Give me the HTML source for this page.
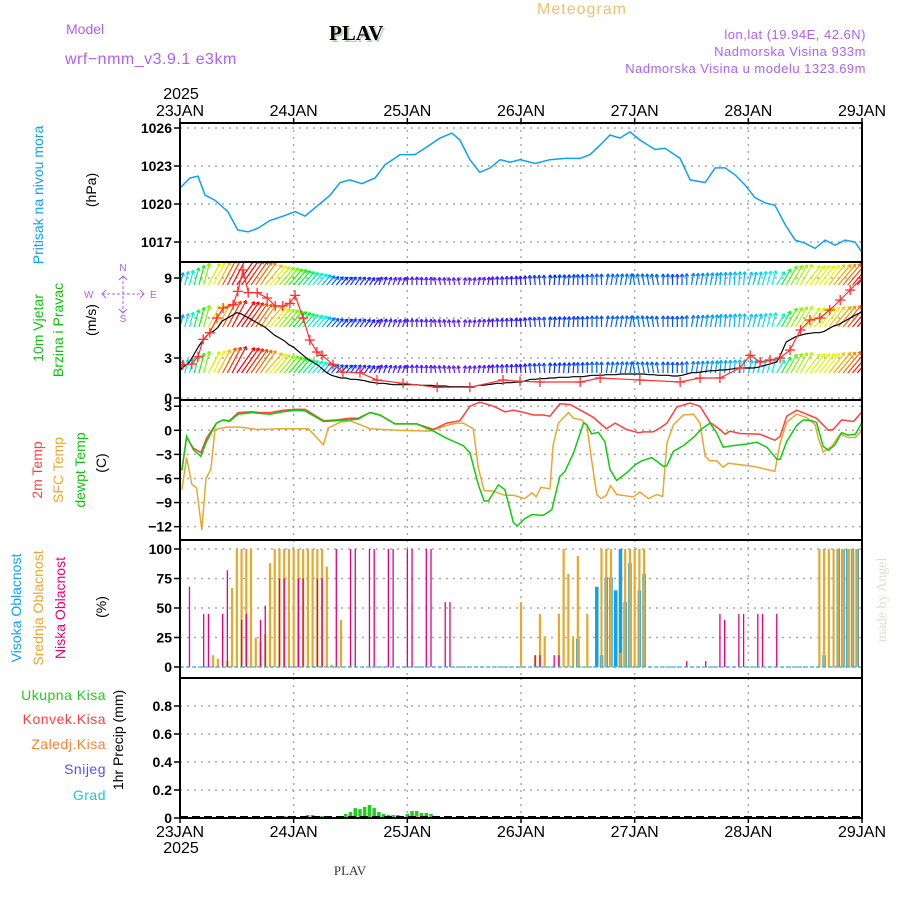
<!DOCTYPE html>
<html><head><meta charset="utf-8"><style>
html,body{margin:0;padding:0;background:#fff;}
svg{display:block;font-family:"Liberation Sans",sans-serif;}
</style></head><body>
<svg id="chart" width="900" height="900" viewBox="0 0 900 900" xmlns="http://www.w3.org/2000/svg">
<defs>
<clipPath id="cpP"><rect x="180" y="123" width="682" height="139"/></clipPath>
<clipPath id="cpW"><rect x="180" y="262" width="682" height="138"/></clipPath>
<clipPath id="cpT"><rect x="180" y="400" width="682" height="140"/></clipPath>
<clipPath id="cpC"><rect x="180" y="540" width="682" height="138"/></clipPath>
<clipPath id="cpR"><rect x="180" y="678" width="682" height="140"/></clipPath>
</defs>
<text x="582" y="14" font-size="16" fill="#f0c070" text-anchor="middle" letter-spacing="1">Meteogram</text>
<text x="66" y="34" font-size="14" fill="#b060f0">Model</text>
<text x="65" y="64" font-size="16" fill="#b060f0" letter-spacing="0.5">wrf−nmm_v3.9.1  e3km</text>
<text x="331" y="42" font-size="21" font-weight="bold" fill="#b8d0b8" font-family="Liberation Serif, serif">PLAV</text>
<text x="329" y="40" font-size="21" font-weight="bold" fill="#000" font-family="Liberation Serif, serif">PLAV</text>
<g font-size="13" fill="#b060f0" text-anchor="end" letter-spacing="0.5">
<text x="866" y="39">lon,lat (19.94E, 42.6N)</text>
<text x="866" y="56">Nadmorska Visina 933m</text>
<text x="866" y="73">Nadmorska Visina u modelu 1323.69m</text>
</g>
<text x="181" y="99" font-size="16" text-anchor="middle">2025</text>
<text x="181" y="853" font-size="16" text-anchor="middle">2025</text>
<text x="350" y="875" font-size="13" font-family="Liberation Serif, serif" fill="#333" text-anchor="middle">PLAV</text>
<text transform="translate(886,600) rotate(-90)" font-size="14" fill="#d4e4d4" text-anchor="middle" font-family="Liberation Serif, serif">made by Angel</text>

<text transform="translate(43,195) rotate(-90)" font-size="14" fill="#10a0f0" text-anchor="middle">Pritisak na nivou mora</text>
<text transform="translate(96,190) rotate(-90)" font-size="14" fill="#000" text-anchor="middle">(hPa)</text>
<text transform="translate(43,328) rotate(-90)" font-size="14" fill="#10c010" text-anchor="middle">10m Vjetar</text>
<text transform="translate(63,330) rotate(-90)" font-size="14" fill="#10c010" text-anchor="middle">Brzina i Pravac</text>
<text transform="translate(96,320) rotate(-90)" font-size="14" fill="#000" text-anchor="middle">(m/s)</text>
<g fill="#b060f0" font-size="10">
<text x="123" y="271" text-anchor="middle">N</text>
<text x="84" y="298">W</text><text x="150" y="298">E</text>
<text x="123" y="322" text-anchor="middle">S</text>
<line x1="102" y1="294" x2="144" y2="294" stroke="#b060f0" stroke-dasharray="3,2"/>
<line x1="123" y1="276" x2="123" y2="313" stroke="#b060f0" stroke-dasharray="3,2"/>
<polyline points="106,290 102,294 106,298" fill="none" stroke="#b060f0"/>
<polyline points="140,290 144,294 140,298" fill="none" stroke="#b060f0"/>
<polyline points="119,280 123,276 127,280" fill="none" stroke="#b060f0"/>
<polyline points="119,309 123,313 127,309" fill="none" stroke="#b060f0"/>
</g>
<text transform="translate(42,470) rotate(-90)" font-size="14" fill="#ff4040" text-anchor="middle">2m Temp</text>
<text transform="translate(63,470) rotate(-90)" font-size="14" fill="#e8a830" text-anchor="middle">SFC Temp</text>
<text transform="translate(85,470) rotate(-90)" font-size="14" fill="#10c010" text-anchor="middle">dewpt Temp</text>
<text transform="translate(106,463) rotate(-90)" font-size="14" fill="#000" text-anchor="middle">(C)</text>
<text transform="translate(21,608) rotate(-90)" font-size="14" fill="#10a0f0" text-anchor="middle">Visoka Oblacnost</text>
<text transform="translate(43,608) rotate(-90)" font-size="14" fill="#e8a830" text-anchor="middle">Srednja Oblacnost</text>
<text transform="translate(65,608) rotate(-90)" font-size="14" fill="#e8007a" text-anchor="middle">Niska Oblacnost</text>
<text transform="translate(106,607) rotate(-90)" font-size="14" fill="#000" text-anchor="middle">(%)</text>
<g font-size="14" text-anchor="end" letter-spacing="0.5">
<text x="106" y="700" fill="#22cc22">Ukupna  Kisa</text>
<text x="106" y="724" fill="#ff4040">Konvek.Kisa</text>
<text x="106" y="749" fill="#ff8030">Zaledj.Kisa</text>
<text x="106" y="774" fill="#5050ff">Snijeg</text>
<text x="106" y="800" fill="#20c8c8">Grad</text>
</g>
<text transform="translate(123,740) rotate(-90)" font-size="14" fill="#000" text-anchor="middle">1hr Precip (mm)</text>
<g id="layer"></g>
</svg>
<script>
// ---- data ----
const days = ["23JAN","24JAN","25JAN","26JAN","27JAN","28JAN","29JAN"];
const pressureTicks = [1017,1020,1023,1026];
const windTicks = [0,3,6,9];
const tempTicks = [-12,-9,-6,-3,0,3];
const cloudTicks = [0,25,50,75,100];
const precipTicks = [0,0.2,0.4,0.6,0.8];

const pHours = [0,2.1,3.8,5.3,7.4,10.1,12.2,14.4,16.5,19,22.2,24.3,26.4,28.5,31.7,33.8,35.9,38.4,41.2,43.3,46.5,49.6,51.7,54.9,57.4,59.1,61.2,63.3,65.5,67.6,69.7,71.8,75,78.1,81.3,84.5,86.6,88.7,90.8,92.9,95,97.1,100.3,102.4,105.6,107.7,110.9,113,115.1,117.2,119.3,121.4,123.5,125.6,127.8,129.9,132,134.1,136.2,138.3,140.4,142.5,144];
const pVals = [1021.26,1022.05,1022.2,1020.7,1020.3,1019.4,1017.95,1017.8,1018.1,1018.7,1019.1,1019.4,1019.05,1019.7,1020.7,1021.7,1021.9,1021.6,1022.05,1023.1,1023.9,1023.9,1024.4,1025.2,1025.6,1025.05,1023.5,1022.5,1022.85,1023.5,1023.3,1023.5,1023.2,1023.5,1023.6,1023.6,1023.9,1024.65,1025.45,1025.2,1025.7,1025.05,1024.3,1024.4,1023.6,1021.9,1021.7,1022.85,1022.85,1022.3,1021.5,1020.5,1020.1,1019.9,1018.35,1017.15,1016.9,1016.5,1017.15,1016.75,1017.15,1017.0,1016.2];

const windSpeed = [2.1,2.4,2.7,3.3,3.9,4.4,4.8,5.0,5.3,5.8,
6.0,6.2,6.4,6.3,6.1,5.9,5.7,5.5,5.3,5.0,
4.7,4.5,4.3,4.0,3.8,3.5,3.2,2.9,2.7,2.5,
2.2,1.9,1.7,1.6,1.5,1.5,1.4,1.4,1.35,1.3,
1.2,1.15,1.1,1.1,1.05,1.0,1.0,1.0,1.0,1.0,
1.0,0.95,0.95,0.95,0.9,0.9,0.9,0.85,0.85,0.85,
0.85,0.85,0.85,0.95,0.95,1.0,1.05,1.1,1.1,1.15,
1.15,1.2,1.2,1.3,1.4,1.4,1.45,1.45,1.5,1.5,
1.55,1.55,1.55,1.6,1.6,1.6,1.65,1.7,1.7,1.7,
1.75,1.75,1.75,1.8,1.8,1.8,1.8,1.8,1.8,1.75,
1.75,1.7,1.7,1.7,1.65,1.65,1.7,1.8,1.9,1.9,
1.95,2.0,2.05,2.05,2.1,2.1,2.15,2.2,2.25,2.25,
2.25,2.25,2.3,2.4,2.5,2.6,2.7,3.4,4.2,4.4,
4.6,4.7,4.8,4.85,4.9,4.9,5.0,5.2,5.4,5.5,
5.7,5.9,6.1,6.3,6.45];
const windDir6h = [15,28,35,40,40,40,35,20,0,350,10,0,355,5,0,10,350,0,10,5,15,30,38,40,40];

const gustHours = [0.6,2.5,3.8,4.9,6.3,7.8,9.1,11.2,12.2,13.3,14.4,16.3,18.4,20.1,21.7,23.2,24.3,26,27.4,28.9,30,32.3,34.4,38,41.6,47.1,54.3,61.2,68.2,71.8,76,84.5,88.7,97.1,105.6,109.8,114,118.2,120.4,122.5,124.6,126.7,128.8,131,133,135.1,137.2,139.4,141.5,144];
const gustVals = [2.5,2.55,3.1,4.4,4.9,6,6.75,7,8.0,9.6,7.9,7.9,7.5,6.9,6.9,7.1,7.7,6,4.35,3.45,3.2,2.5,1.95,1.9,1.35,1.1,0.8,0.8,1.35,1.25,1.2,1.2,1.5,1.35,1.2,1.5,1.5,2.25,3.2,2.7,2.85,3,3.6,5.1,5.85,6,6.6,7.35,8.1,9];

const t2Hours = [0.4,1.4,2.8,4.4,5.6,7.7,9.1,10.4,12.3,15.1,16.9,19,21.8,24.6,26.4,30.3,33.1,35.9,37.6,40.1,42.2,45.4,50,53.5,56.3,59.1,61.2,63.3,66.2,68.6,70.4,72.8,74.6,76.7,78.1,80.2,82.4,85.2,87.3,90,91.9,94.3,96.8,97.8,99.9,101.4,102.8,104.9,107.7,109.8,111.9,114,115.1,116.1,118.2,122.5,125.6,126.7,128.1,130.2,132.3,134.4,136.9,137.9,139.7,142.2,144];
const t2Vals = [-4.9,-0.9,-2.2,-2.8,-1,0.9,1.3,1.2,2.2,2.3,2.2,2.2,2.5,2.6,2.6,1.2,1.3,1.5,1.5,2.2,1.9,0.8,0.8,0.1,0.9,1.2,3.0,3.5,3,2.3,2.5,2.2,1.9,1.9,1.75,3.3,3.2,2.3,1.6,0.2,0.9,0.1,-0.3,-0.2,-0.2,0.3,0.9,2.9,3.4,3,1,0.1,-0.5,-0.1,-0.4,-0.5,-1.25,-0.75,1.75,2.5,2,1.5,0,0.1,1.3,1.1,2.3];

const dewHours = [0.4,1.4,2.8,4.4,5.6,7.7,9.1,10.4,12.3,15.1,19,21.8,24.6,26.4,30.3,33.1,35.9,37.6,40.1,42.2,45.4,50,53.5,56.3,59.8,61.2,63,64.2,65.1,67.2,68.6,70.4,71.2,72.8,74.3,76.7,78.5,80.2,81.3,83.1,85.2,85.9,86.9,88.3,89.7,90.8,92.2,94.3,96.1,97.5,99.6,102.1,102.8,104.2,106.3,108.4,110.2,111.9,113.3,114.7,116.8,119.7,121.8,123.9,126,126.7,128.1,130.2,131.6,133.4,134.4,135.8,136.9,138.3,139.7,141.1,142.6,144];
const dewVals = [-5,-0.75,-2.4,-3.25,-1.4,0.9,1.3,1.1,2,2.2,2,2.3,2.5,2.4,1.1,1.2,1.3,1.4,2.2,1.9,0.8,0.8,-0.1,-1,-1.9,-2.8,-6.8,-8.8,-8.8,-6.8,-7.4,-11.5,-11.9,-11,-10.5,-10.6,-9.9,-5.75,-5.1,-2.8,0.9,0.7,-0.45,-0.25,-1.4,-4.9,-6.25,-5.3,-4.3,-3.8,-3.4,-4.5,-4.4,-2.6,-1.9,-0.9,0.2,0.9,-0.3,-2.1,-1.9,-1.7,-1.5,-2.1,-3.6,-3.6,-1.4,0.6,1.3,1.2,1,-2,-2.5,-1.8,-0.3,-0.6,-0.5,1];

const sfcHours = [0.4,1.4,2.5,3.5,4.6,5.5,6.5,7.4,9.9,12.7,16.2,21.1,27.1,30.3,31.3,33.8,35.9,40.1,45.7,52.8,56.3,58.4,59.8,61.9,63,64.2,66.2,68.6,70.4,72.8,74.3,75.2,76.2,78.1,78.8,79.9,82,83.1,84.8,85.9,86.9,88,88.9,90,90.9,92.2,95.7,97.1,98.9,100.7,101.9,102.8,104.2,106.3,108.4,109.8,110.9,111.9,113.3,114.7,115.8,119.7,121.1,125.6,126.7,128.1,130.2,132.3,134.1,134.8,135.8,137.6,139.4,141.1,142.6,144];
const sfcVals = [-7.4,-3.4,-6.7,-7.2,-12.4,-6,-4.9,0.1,0.4,0.4,0.1,0.2,0.2,-1.8,0.3,1,1.2,0.2,0,-0.1,0.6,0.9,0.9,0.2,-4.7,-7.5,-7.6,-8.1,-8.1,-8.5,-7.8,-8.3,-7.1,-7.3,-1.8,0.9,2.2,1.5,1.3,0.7,-3.7,-8,-8.5,-8.1,-6.9,-8,-8.3,-7.7,-8.5,-8,-8.25,-1.6,0.7,1.9,2,0.9,-3.25,-3.8,-3.8,-4.6,-4.1,-4.4,-4.5,-5.1,-1.6,1,2,1.6,0.7,-1,-2.7,-2,-0.45,-0.9,-0.9,0];

const lowHours = [2,5,6,9,10,13,14,17,18,21,22,25,26,29,30,33,36,37,40,41,44,45,48,49,52,53,56,57,75,76,79,80,107,111,114,115,118,119,122,123,126];
const lowVals = [68,45,45,45,82,40,45,40,52,75,75,75,75,75,75,100,100,100,100,100,100,100,100,100,100,100,55,55,10,10,10,10,5,5,45,40,45,45,45,45,45];
const midHours = [7,8,10,11,12,13,14,15,16,17,18,19,20,21,22,23,24,25,26,27,28,29,30,31,32,34,72,75,76,77,80,81,82,83,84,86,89,90,91,93,94,95,96,97,98,135,136,137,138,139,140,141,142,143];
const midVals = [10,7,5,67,100,100,100,100,25,22,28,88,100,100,100,100,100,100,100,100,100,100,100,85,2,40,55,10,45,26,45,100,79,26,94,45,100,100,100,12,100,100,100,100,100,100,100,100,100,100,100,100,100,100];
const highHours = [84,88,89,90,91,92,93,94,95,97,98,136,139,140,141,142,143];
const highVals = [24,68,10,76,76,65,100,55,88,65,79,10,100,100,100,100,100];

const rainHours = [21,22,23,24,25,26,27,28,29,30,31,33,34,35,36,37,38,39,40,41,42,43,44,45,46,47,48,49,50,51,52,53,54,55,113];
const rainVals = [0.007,0.014,0.014,0.007,0.007,0.007,0.021,0.021,0.014,0.014,0.007,0.007,0.007,0.029,0.043,0.071,0.064,0.079,0.093,0.071,0.043,0.029,0.021,0.021,0.021,0.014,0.029,0.05,0.05,0.036,0.036,0.029,0.014,0.007,0.004];
const frzHours = [49,50,52,54];
const frzVals = [0.01,0.02,0.01,0.01];

// ---- axes ----
const X0=180, X1=862, NH=144;
const xh = h => X0 + h*(X1-X0)/NH;
const yP = p => 128 + (1026-p)*12.67;
const yW = v => 398 - v*13.33;
const yT = t => 430.3 - t*8.03;
const yC = c => 667 - c*1.18;
const yR = r => 818 - r*140;
const NS="http://www.w3.org/2000/svg";
const layer=document.getElementById('layer');
function mk(tag, attrs, parent){const e=document.createElementNS(NS,tag);for(const k in attrs)e.setAttribute(k,attrs[k]);(parent||layer).appendChild(e);return e;}
function poly(hs, vs, yf, color, clip, w, name){
  const pts=hs.map((h,i)=>xh(h).toFixed(1)+","+yf(vs[i]).toFixed(1)).join(" ");
  const e=mk('polyline',{points:pts,fill:'none',stroke:color,'stroke-width':w||1.5,'clip-path':'url(#'+clip+')'});
  
  
  return e;
}
const panels=[[123,262,'cpP',pressureTicks,yP,'pressure'],[262,400,'cpW',windTicks,yW,'wind'],[400,540,'cpT',tempTicks,yT,'temp'],[540,678,'cpC',cloudTicks,yC,'cloud'],[678,818,'cpR',precipTicks,yR,'precip']];
panels.forEach(p=>{
  p[3].forEach(t=>{const y=p[4](t);
    const g=mk('line',{x1:X0,x2:X1,y1:y,y2:y,stroke:'#aaa','stroke-dasharray':'2,5','stroke-width':1.5});
    
    
    const tk=mk('line',{x1:174,x2:180,y1:y,y2:y,stroke:'#000','stroke-width':1.5});
    
    
    const lb=mk('text',{x:172,y:y+5,'font-size':14,'font-weight':'bold','text-anchor':'end'});
    lb.textContent=(t<0?'−'+Math.abs(t):String(t));
    
    
  });
  days.forEach((d,i)=>{if(i===0||i===days.length-1)return;const x=xh(i*24);
    const g=mk('line',{x1:x,x2:x,y1:p[0],y2:p[1],stroke:'#aaa','stroke-dasharray':'2,5','stroke-width':1.5});
    
    
  });
});
days.forEach((d,i)=>{const x=xh(i*24);
  const a=mk('text',{x:x,y:116,'font-size':16,'text-anchor':'middle'});a.textContent=d;
  
  
  const b=mk('text',{x:x,y:837,'font-size':16,'text-anchor':'middle'});b.textContent=d;
  
  
  mk('line',{x1:x,x2:x,y1:118,y2:123,stroke:'#000','stroke-width':1.5});
  mk('line',{x1:x,x2:x,y1:818,y2:823,stroke:'#000','stroke-width':1.5});
});

poly(pHours,pVals,yP,'#10a0f0','cpP',1.5,'pressure-line');

// wind arrows
const rows=[285,327,373];
windSpeed.forEach((v,h)=>{
  const dir=windDir6h[Math.floor(h/6)]*Math.PI/180;
  const L=4.2*v+4;
  const hue=Math.max(0,Math.min(285,300-48*v));
  const col='hsl('+hue.toFixed(0)+',100%,'+(hue>230?55:48)+'%)';
  rows.forEach((by,ri)=>{
    const x=xh(h), dx=Math.sin(dir)*L, dy=-Math.cos(dir)*L;
    const g=mk('g',{stroke:col,'stroke-width':1.2,fill:'none','clip-path':'url(#cpW)'});
    
    
    mk('line',{x1:x,y1:by,x2:x+dx,y2:by+dy},g);
    const ang=Math.atan2(dy,dx), hl=3.5;
    [ang+2.6,ang-2.6].forEach(a=>mk('line',{x1:x+dx,y1:by+dy,x2:x+dx+Math.cos(a)*hl,y2:by+dy+Math.sin(a)*hl},g));
  });
});
poly(windSpeed.map((v,i)=>i),windSpeed,yW,'#000','cpW',1.2,'wind-speed-line');
poly(gustHours,gustVals,yW,'#ff3030','cpW',1.2,'wind-gust-line');
gustHours.forEach((h,i)=>{const x=xh(h),y=yW(gustVals[i]);
  const g=mk('g',{stroke:'#ff3030','stroke-width':1.3,'clip-path':'url(#cpW)'});
  
  
  mk('line',{x1:x-5,x2:x+5,y1:y,y2:y},g);mk('line',{x1:x,x2:x,y1:y-5,y2:y+5},g);
});

poly(sfcHours,sfcVals,yT,'#e8a830','cpT',1.5,'sfc-temp-line');
poly(t2Hours,t2Vals,yT,'#ff4040','cpT',1.5,'temp-2m-line');
poly(dewHours,dewVals,yT,'#10cc10','cpT',1.5,'dewpoint-line');

function bars(hs,vs,yf,color,w,off,name,clip,base){
  hs.forEach((h,i)=>{const x=xh(h)+off, y=yf(vs[i]);
    const r=mk('rect',{x:x-w/2,y:y,width:w,height:Math.max(0,base-y),fill:color,'clip-path':'url(#'+clip+')'});
    
    
  });
}
bars(highHours,highVals,yC,'#10a0f0',3.5,0,'high-cloud-bar','cpC',667);
bars(midHours,midVals,yC,'#e8a828',2.2,0,'mid-cloud-bar','cpC',667);
bars(lowHours,lowVals,yC,'#e8007a',1.3,0,'low-cloud-bar','cpC',667);
const cb=mk('line',{x1:X0,x2:X1,y1:667,y2:667,stroke:'#40b0e0','stroke-width':1.2,'stroke-dasharray':'4,2'});



bars(rainHours,rainVals,yR,'#22cc22',3.5,0,'rain-bar','cpR',818);
bars(frzHours,frzVals,yR,'#ff8030',1.5,0,'freezing-rain-bar','cpR',818);
const pb=mk('line',{x1:X0,x2:X1,y1:817,y2:817,stroke:'#000','stroke-width':2,'stroke-dasharray':'8,4'});



panels.forEach(p=>{
  const r=mk('rect',{x:X0,y:p[0],width:X1-X0,height:p[1]-p[0],fill:'none',stroke:'#000','stroke-width':2});
  
  
});
</script>
</body></html>
